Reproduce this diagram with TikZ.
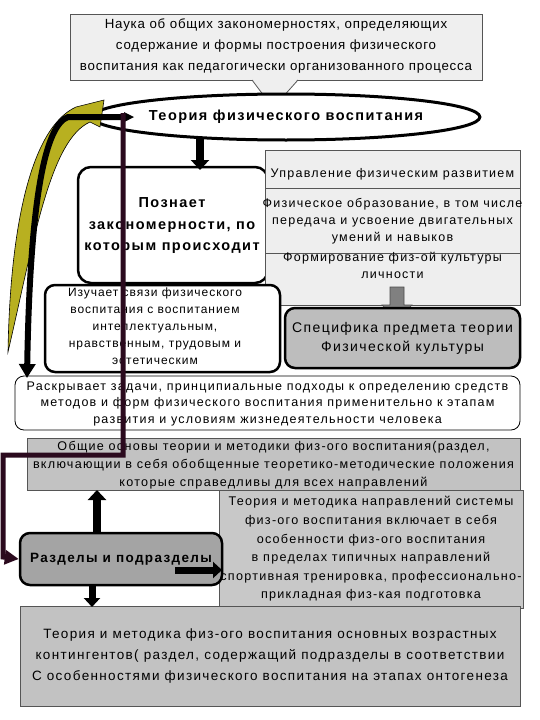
\documentclass[tikz,border=0pt]{standalone}
\usepackage{fontspec}
\setmainfont[LetterSpace=10]{Liberation Sans}
\usetikzlibrary{arrows.meta,shapes.geometric}
\definecolor{topfill}{HTML}{EFEFEF}
\definecolor{stackfill}{HTML}{EEEEEE}
\definecolor{specfill}{HTML}{BDBDBD}
\definecolor{genfill}{HTML}{C2C2C2}
\definecolor{dirfill}{HTML}{C8C8C8}
\definecolor{razfill}{HTML}{A4A4A4}
\definecolor{olivefill}{HTML}{B8B020}
\definecolor{purp}{HTML}{2B0A1E}
\definecolor{edgegray}{HTML}{555555}
\begin{document}
\begin{tikzpicture}[x=1pt,y=-1pt,
  txt/.style={align=center,inner sep=0pt,font=\fontsize{12.5}{17}\selectfont},
  plainbox/.style={draw=edgegray,line width=0.8pt,inner sep=0pt},
  thickbox/.style={draw=black,line width=2.5pt,rounded corners=10pt,inner sep=0pt},
  blockarrow/.style={line width=8pt,-{Triangle[width=18pt,length=10pt]}}
]
\useasboundingbox (0,0) rectangle (540,720);
% top box and callout
\fill[topfill,draw=edgegray,line width=0.8pt] (70,14) rectangle (482,80);
\fill[topfill] (252,79) -- (298,79) -- (273,108) -- cycle;
\draw[edgegray,line width=0.8pt] (252,80) -- (273,108) -- (298,80);
\node[txt,font=\addfontfeature{LetterSpace=6}\fontsize{13.3}{21}\selectfont] (top) at (276,46) {Наука об общих закономерностях, определяющих\\содержание и формы построения физического\\воспитания как педагогически организованного процесса};
% ellipse
\node[ellipse,draw=black,line width=3pt,fill=white,minimum width=372pt,minimum height=46pt,inner sep=0pt,font=\bfseries\fontsize{14.5}{17}\selectfont] (theory) at (286,117) {Теория физического воспитания};
% Poznaet box
\node[thickbox,rounded corners=13pt,fill=white,minimum width=190pt,minimum height=116pt] (poz) at (173,225) {};
\node[txt,font=\bfseries\fontsize{14.5}{21.5}\selectfont] (poztext) at (172,226) {Познает\\закономерности, по\\которым происходит};
% arrow ellipse -> poznaet
\draw[blockarrow] (200,138) -- (200,170);
% right stack
\node[plainbox,fill=stackfill,minimum width=255pt,minimum height=38pt] (upr) at (392.5,169) {};
\node[txt] (uprtext) at (392.5,174) {Управление физическим развитием};
\node[plainbox,fill=stackfill,minimum width=255pt,minimum height=65pt] (fiz) at (392.5,220.5) {};
\node[txt] (fiztext) at (392.5,221) {Физическое образование, в том числе\\передача и усвоение двигательных\\умений и навыков};
\node[plainbox,fill=stackfill,minimum width=255pt,minimum height=52pt] (form) at (392.5,279) {};
\node[txt,anchor=north] (formtext) at (392.5,252) {Формирование физ-ой культуры\\личности};
% Izuchaet box
\node[thickbox,fill=white,minimum width=235pt,minimum height=87pt] (izu) at (162.5,328.5) {};
\node[txt,font=\addfontfeature{LetterSpace=8}\fontsize{12}{16.8}\selectfont,anchor=north] (izutext) at (155,288) {Изучает связи физического\\воспитания с воспитанием\\интеллектуальным,\\нравственным, трудовым и\\эстетическим};
% gray arrow
\fill[gray,draw=black!70,line width=0.6pt] (390,287) -- (404,287) -- (404,305) -- (412,305) -- (397,320) -- (382,305) -- (390,305) -- cycle;
% Specifika
\node[thickbox,fill=specfill,minimum width=235pt,minimum height=60pt,font=\fontsize{14}{19}\selectfont,align=center] (spec) at (402.5,338) {Специфика предмета теории\\Физической культуры};
% Raskryvaet
\node[draw=black,line width=0.8pt,rounded corners=9pt,fill=white,minimum width=505pt,minimum height=54pt,inner sep=0pt] (rask) at (267.5,403) {};
\node[txt,font=\fontsize{12.5}{16.5}\selectfont] (rasktext) at (267.5,403.5) {Раскрывает задачи, принципиальные подходы к определению средств\\методов и форм физического воспитания применительно к этапам\\развития и условиям жизнедеятельности человека};
% Obshchie
\node[plainbox,fill=genfill,minimum width=493pt,minimum height=52pt] (gen) at (273.5,464) {};
\node[txt,font=\fontsize{12.6}{18}\selectfont] (gentext) at (273.5,465) {Общие основы теории и методики физ-ого воспитания(раздел,\\включающии в себя обобщенные теоретико-методические положения\\которые справедливы для всех направлений};
% Teoriya napravleniy
\node[plainbox,fill=dirfill,minimum width=304pt,minimum height=118pt,font=\fontsize{12.6}{18.6}\selectfont,align=center] (dir) at (371,549) {Теория и методика направлений системы\\физ-ого воспитания включает в себя\\особенности физ-ого воспитания\\в пределах типичных направлений\\спортивная тренировка, профессионально-\\прикладная физ-кая подготовка};
% bottom box
\node[plainbox,fill=genfill,minimum width=500pt,minimum height=100pt,font=\fontsize{13.5}{21}\selectfont,align=center] (bot) at (270,656) {Теория и методика физ-ого воспитания основных возрастных\\контингентов( раздел, содержащий подразделы в соответствии\\С особенностями физического воспитания на этапах онтогенеза};
% Razdely
\node[thickbox,fill=razfill,minimum width=202pt,minimum height=52pt,font=\bfseries\fontsize{13.5}{16}\selectfont] (raz) at (121,559) {Разделы и подразделы};
% arrows from razdely
\draw[blockarrow] (97,532) -- (97,490);
\draw[line width=7pt,-{Triangle[width=16pt,length=9pt]}] (175,570) -- (222,570);
\draw[line width=7pt,-{Triangle[width=16pt,length=9pt]}] (92,584) -- (92,607);
% olive curved block arrow
\fill[olivefill,draw=black,line width=0.6pt] (8,352) .. controls (10,230) and (30,128) .. (76,107) -- (104,100) -- (100,127) -- (90,122) .. controls (50,140) and (34,240) .. cycle;
% black curved arrow
\draw[line width=6pt,-{Triangle[width=16pt,length=14pt]}] (128,117) -- (68,117) .. controls (45,125) and (30,200) .. (27,378);
\fill[black] (134,117) -- (124,112) -- (124,122) -- cycle;
% purple connector
\coordinate (pstart) at (123,113);
\draw[purp,line width=5pt,-{Triangle[width=14pt,length=14pt]}] (pstart) -- (123,455) -- (3,455) -- (3,557) -- (raz.west);
\end{tikzpicture}
\end{document}
